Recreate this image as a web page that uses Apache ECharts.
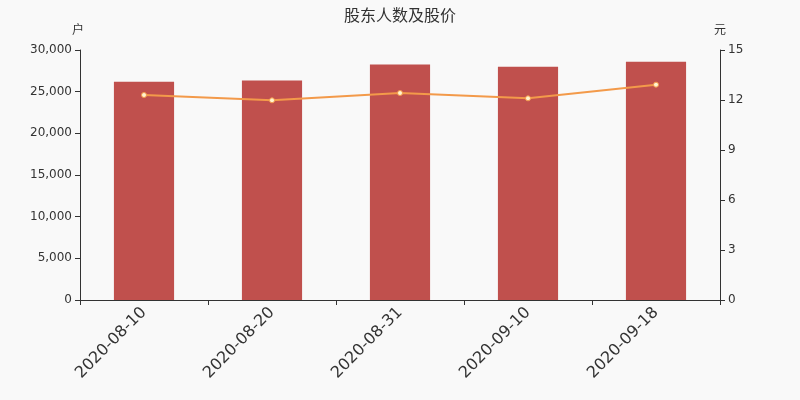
<!DOCTYPE html>
<html>
<head>
<meta charset="utf-8">
<script src="https://cdn.jsdelivr.net/npm/echarts@6/dist/echarts.min.js"></script>
<style>
html,body{margin:0;padding:0;background:#f9f9f9;}
#c{width:800px;height:400px;}
</style>
</head>
<body>
<div id="c"></div>
<script>
var categories = ['2020-08-10', '2020-08-20', '2020-08-31', '2020-09-10', '2020-09-18'];
var holders = [26200, 26350, 28250, 28000, 28600];
var prices = [12.3, 11.98, 12.42, 12.1, 12.92];

var chart = echarts.init(document.getElementById('c'));
chart.setOption({
  backgroundColor: '#f9f9f9',
  animation: false,
  title: {
    text: '股东人数及股价',
    left: 'center',
    top: 2,
    textStyle: { fontSize: 16, fontWeight: 'normal', color: '#333', fontFamily: 'Noto Sans CJK SC' }
  },
  grid: { left: 80, right: 80, top: 50, bottom: 100 },
  xAxis: {
    type: 'category',
    data: categories,
    axisLine: { lineStyle: { color: '#333' } },
    axisTick: { show: true, alignWithLabel: false, lineStyle: { color: '#333' } },
    axisLabel: { rotate: 45, fontSize: 16, color: '#333', margin: 10, fontFamily: 'DejaVu Sans' }
  },
  yAxis: [
    {
      type: 'value',
      name: '户',
      min: 0, max: 30000, interval: 5000,
      nameGap: 15,
      nameTextStyle: { color: '#333', fontSize: 12, align: 'center', padding: [0, 4, 0, 0], fontFamily: 'Noto Sans CJK SC' },
      axisLine: { show: true, lineStyle: { color: '#333' } },
      axisTick: { show: true, lineStyle: { color: '#333' } },
      axisLabel: { color: '#333', fontSize: 12, fontFamily: 'DejaVu Sans' },
      splitLine: { show: false }
    },
    {
      type: 'value',
      name: '元',
      min: 0, max: 15, interval: 3,
      nameGap: 15,
      nameTextStyle: { color: '#333', fontSize: 12, align: 'center', fontFamily: 'Noto Sans CJK SC' },
      axisLine: { show: true, lineStyle: { color: '#333' } },
      axisTick: { show: true, lineStyle: { color: '#333' } },
      axisLabel: { color: '#333', fontSize: 12, fontFamily: 'DejaVu Sans' },
      splitLine: { show: false }
    }
  ],
  series: [
    {
      name: '股东人数',
      type: 'bar',
      data: holders,
      barWidth: '47%',
      itemStyle: { color: '#c0504d' }
    },
    {
      name: '股价',
      type: 'line',
      yAxisIndex: 1,
      data: prices,
      symbol: 'circle',
      symbolSize: 5,
      lineStyle: { color: '#f39a4a', width: 2 },
      itemStyle: { color: '#fff5d0', borderColor: '#f39a4a', borderWidth: 1 }
    }
  ]
});
</script>
</body>
</html>
